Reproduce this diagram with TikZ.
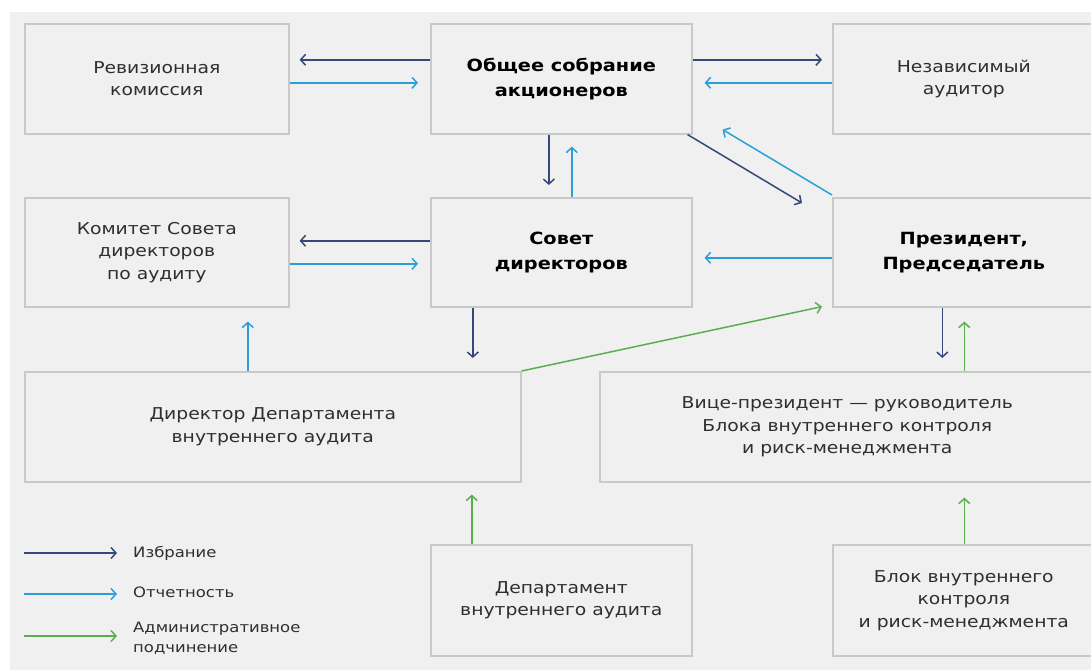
\documentclass[tikz,border=0pt]{standalone}
\usepackage{fontspec}
\setmainfont{DejaVu Sans}[FakeStretch=1.15]
\usetikzlibrary{arrows.meta}
\definecolor{bgc}{HTML}{F0F0F0}
\definecolor{boxline}{HTML}{C9C9C9}
\definecolor{navy}{HTML}{34497A}
\definecolor{lblue}{HTML}{2A9FD8}
\definecolor{agreen}{HTML}{5AAE50}
\definecolor{txt}{HTML}{2E2E2E}
\tikzset{
  box/.style={draw=boxline, line width=1.6pt, fill=bgc, anchor=north west, align=center,
    text=txt, font=\fontsize{16.3}{22.5}\selectfont, inner sep=0pt},
  bbox/.style={box, text=black, font=\fontsize{16.8}{25}\selectfont\bfseries},
  conn/.style={line width=1.5pt, -{Straight Barb[length=5pt,width=11pt,line width=1.5pt]}},
  nav/.style={conn, draw=navy},
  rep/.style={conn, draw=lblue},
  adm/.style={conn, draw=agreen},
  leg/.style={anchor=west, text=txt, font=\fontsize{14.3}{20}\selectfont, align=left, inner sep=0pt},
}
\begin{document}
\begin{tikzpicture}[x=1pt,y=-1pt]
\useasboundingbox (0,0) rectangle (1091,669);
\clip (0,0) rectangle (1091,669);
\fill[white] (0,0) rectangle (1091,669);
\fill[bgc] (10,12) rectangle (1100,680);

% row 1
\node[box, minimum width=264pt, minimum height=110pt] (rev) at (24,23) {Ревизионная\\комиссия};
\node[bbox, minimum width=261pt, minimum height=110pt] (ob) at (430,23) {Общее собрание\\акционеров};
\node[box, minimum width=262pt, minimum height=110pt] (ind) at (832,23) {Независимый\\аудитор};
% row 2
\node[box, minimum width=264pt, minimum height=109pt] (kom) at (24,197) {Комитет Совета\\директоров\\по аудиту};
\node[bbox, minimum width=261pt, minimum height=109pt] (sov) at (430,197) {Совет\\директоров};
\node[bbox, minimum width=262pt, minimum height=109pt] (pres) at (832,197) {Президент,\\Председатель};
% row 3
\node[box, minimum width=496pt, minimum height=110pt] (dir) at (24,371) {Директор Департамента\\внутреннего аудита};
\node[box, minimum width=495pt, minimum height=110pt] (vp) at (599,371) {Вице-президент — руководитель\\Блока внутреннего контроля\\и риск-менеджмента};
% row 4
\node[box, minimum width=261pt, minimum height=111pt] (dep) at (430,544) {Департамент\\внутреннего аудита};
\node[box, minimum width=262pt, minimum height=111pt] (blk) at (832,544) {Блок внутреннего\\контроля\\и риск-менеджмента};

% connectors row 1
\draw[nav, shorten >=10pt] ([yshift=19pt]ob.west) -- ([yshift=19pt]rev.east);
\draw[rep, shorten >=12pt] ([yshift=-4pt]rev.east) -- ([yshift=-4pt]ob.west);
\draw[nav, shorten >=10pt] ([yshift=19pt]ob.east) -- ([yshift=19pt]ind.east -| ind.west);
\draw[rep, shorten >=12pt] ([yshift=-4pt]ind.west) -- ([yshift=-4pt]ob.east);
% vertical between ob and sov
\draw[nav, shorten >=12pt] ([xshift=-12.5pt]ob.south) -- ([xshift=-12.5pt]sov.north);
\draw[rep, shorten >=12pt] ([xshift=10.5pt]sov.north) -- ([xshift=10.5pt]ob.south);
% diagonals
\draw[nav] ([xshift=-5pt]ob.south east) -- ([xshift=-30pt,yshift=-6pt]pres.north west);
\draw[rep] ([yshift=2pt]pres.north west) -- ([xshift=30pt,yshift=5pt]ob.south east);
% row 2
\draw[nav, shorten >=10pt] ([yshift=11.5pt]sov.west) -- ([yshift=11.5pt]kom.east);
\draw[rep, shorten >=12pt] ([yshift=-11.5pt]kom.east) -- ([yshift=-11.5pt]sov.west);
\draw[rep, shorten >=12pt] ([yshift=-5.5pt]pres.west) -- ([yshift=-5.5pt]sov.east);
% to row 3
\draw[nav, shorten >=13pt] ([xshift=-88.5pt]sov.south) -- ([xshift=-88.5pt]sov.south |- dir.north);
\draw[rep, shorten >=14pt] ([xshift=91pt]kom.south |- dir.north) -- ([xshift=91pt]kom.south);
\draw[adm] (dir.north east) -- ([xshift=-10pt,yshift=1pt]pres.south west);
\draw[nav, shorten >=13pt] ([xshift=-21.5pt]pres.south) -- ([xshift=-21.5pt]pres.south |- vp.north);
\coordinate (vpup) at ([xshift=0.5pt]pres.south |- vp.north);
\coordinate (presdn) at ([xshift=0.5pt]pres.south);
\draw[adm, shorten >=14pt] (vpup) -- (presdn);
% row 4
\draw[adm, shorten >=12pt] ([xshift=-89.5pt]dep.north) -- ([xshift=-89.5pt]dep.north |- dir.south);
\coordinate (blkup) at ([xshift=0.5pt]blk.north);
\coordinate (vpdn) at ([xshift=0.5pt]blk.north |- vp.south);
\draw[adm, shorten >=15pt] (blkup) -- (vpdn);

% legend
\node[leg] (l1) at (133,553) {Избрание};
\node[leg] (l2) at (133,592) {Отчетность};
\node[leg] (l3) at (133,638) {Административное\\подчинение};
\coordinate (c1) at (24,553);
\coordinate (c2) at (24,594);
\coordinate (c3) at (24,636);
\draw[nav, shorten >=16pt] (c1) -- (c1 -| l1.west);
\draw[rep, shorten >=16pt] (c2) -- (c2 -| l2.west);
\draw[adm, shorten >=16pt] (c3) -- (c3 -| l3.west);
\end{tikzpicture}
\end{document}
